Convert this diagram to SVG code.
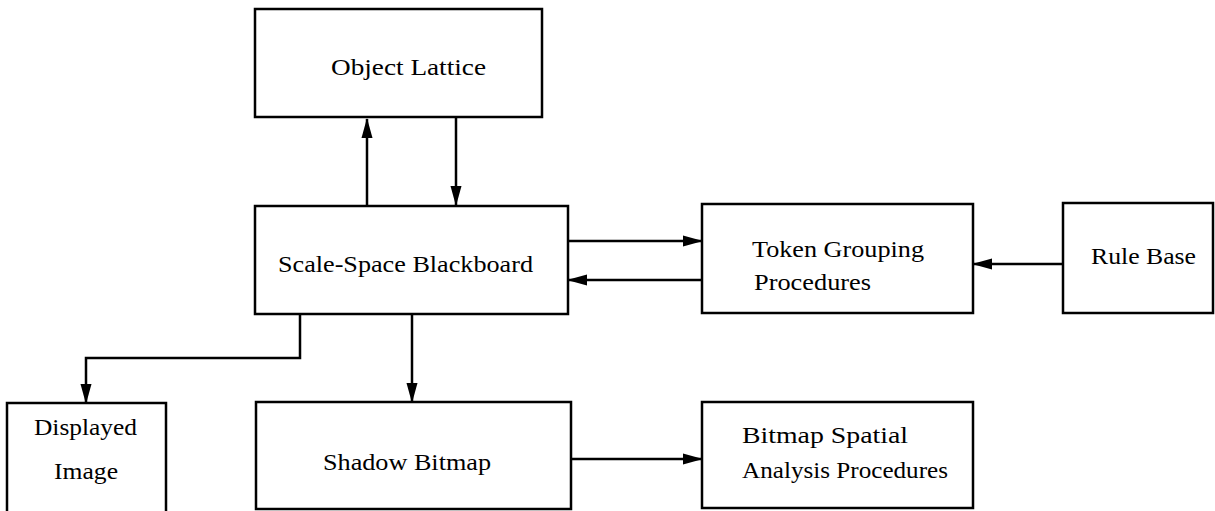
<svg xmlns="http://www.w3.org/2000/svg" width="1215" height="511" viewBox="0 0 1215 511">
<style>
.box{fill:#fff;stroke:#000;stroke-width:2.5}
.lbl{font-family:"Liberation Serif","DejaVu Serif",serif;font-size:23px;fill:#000}
.con{fill:none;stroke:#000;stroke-width:2.5}
</style>
<defs>
<marker id="ah" markerUnits="userSpaceOnUse" markerWidth="20" markerHeight="12" refX="19" refY="6" orient="auto">
<path d="M0,0.5 L20,6 L0,11.5 z" fill="#000"/>
</marker>
</defs>
<rect width="1215" height="511" fill="#fff"/>
<g id="connectors">
<path class="con" d="M367,205 L367,119" marker-end="url(#ah)"/>
<path class="con" d="M456,118 L456,205" marker-end="url(#ah)"/>
<path class="con" d="M568,241 L702,241" marker-end="url(#ah)"/>
<path class="con" d="M702,280 L568,280" marker-end="url(#ah)"/>
<path class="con" d="M1063,264 L973,264" marker-end="url(#ah)"/>
<path class="con" d="M300,314 L300,358 L86,358 L86,403" marker-end="url(#ah)"/>
<path class="con" d="M412,314 L412,402" marker-end="url(#ah)"/>
<path class="con" d="M571,459 L702,459" marker-end="url(#ah)"/>
</g>
<g id="object-lattice">
<rect class="box" x="255" y="9" width="287" height="108"/>
<text class="lbl" x="331" y="75" textLength="155" lengthAdjust="spacingAndGlyphs">Object Lattice</text>
</g>
<g id="blackboard">
<rect class="box" x="255" y="206" width="313" height="108"/>
<text class="lbl" x="278" y="272" textLength="255" lengthAdjust="spacingAndGlyphs">Scale-Space Blackboard</text>
</g>
<g id="token-grouping">
<rect class="box" x="702" y="204" width="271" height="109"/>
<text class="lbl" x="752" y="257" textLength="172" lengthAdjust="spacingAndGlyphs">Token Grouping</text>
<text class="lbl" x="754" y="290" textLength="117" lengthAdjust="spacingAndGlyphs">Procedures</text>
</g>
<g id="rule-base">
<rect class="box" x="1063" y="203" width="150" height="110"/>
<text class="lbl" x="1091" y="264" textLength="105" lengthAdjust="spacingAndGlyphs">Rule Base</text>
</g>
<g id="displayed-image">
<rect class="box" x="7" y="403" width="159" height="115"/>
<text class="lbl" x="34" y="435" textLength="103" lengthAdjust="spacingAndGlyphs">Displayed</text>
<text class="lbl" x="54" y="479" textLength="64" lengthAdjust="spacingAndGlyphs">Image</text>
</g>
<g id="shadow-bitmap">
<rect class="box" x="256" y="402" width="315" height="107"/>
<text class="lbl" x="323" y="470" textLength="168" lengthAdjust="spacingAndGlyphs">Shadow Bitmap</text>
</g>
<g id="bitmap-spatial">
<rect class="box" x="702" y="402" width="271" height="106"/>
<text class="lbl" x="742" y="443" textLength="166" lengthAdjust="spacingAndGlyphs">Bitmap Spatial</text>
<text class="lbl" x="742" y="478" textLength="206" lengthAdjust="spacingAndGlyphs">Analysis Procedures</text>
</g>
</svg>
